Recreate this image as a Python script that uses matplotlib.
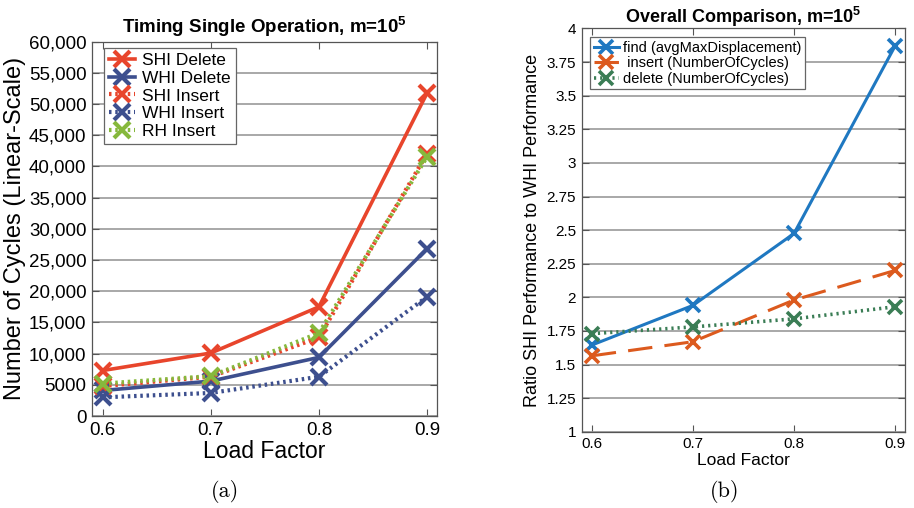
import numpy as np
import matplotlib
matplotlib.use("Agg")
import matplotlib.pyplot as plt

plt.rcParams['font.family'] = ['Liberation Sans', 'DejaVu Sans']
plt.rcParams['mathtext.fontset'] = 'custom'
plt.rcParams['mathtext.rm'] = 'Liberation Sans'
plt.rcParams['mathtext.bf'] = 'Liberation Sans:bold'

# data
load = [0.6, 0.7, 0.8, 0.9]

shi_delete = [7300, 10100, 17500, 51700]
whi_delete = [4100, 5600, 9400, 26800]
shi_insert = [4800, 6300, 12600, 42000]
whi_insert = [3000, 3700, 6300, 19100]
rh_insert = [5200, 6400, 13300, 41500]

find_ratio = [1.645, 1.94, 2.475, 3.87]
insert_ratio = [1.565, 1.67, 1.98, 2.20]
delete_ratio = [1.73, 1.78, 1.84, 1.93]

left_yticks = [0, 5000, 10000, 15000, 20000, 25000, 30000, 35000, 40000, 45000, 50000, 55000, 60000]
left_yticklabels = ['0', '5000', '10,000', '15,000', '20,000', '25,000', '30,000',
                    '35,000', '40,000', '45,000', '50,000', '55,000', '60,000']
right_yticks = [1, 1.25, 1.5, 1.75, 2, 2.25, 2.5, 2.75, 3, 3.25, 3.5, 3.75, 4]
right_yticklabels = ['1', '1.25', '1.5', '1.75', '2', '2.25', '2.5', '2.75', '3', '3.25', '3.5', '3.75', '4']

RED = '#E8452C'
BLUE = '#3D4F8E'
GREEN = '#86B83C'
M_BLUE = '#1F78C1'
M_ORANGE = '#DC5A1E'
M_GREEN = '#3A7D55'

fig = plt.figure(figsize=(9.14, 5.08), dpi=100)
ax1 = fig.add_axes([0.1007, 0.181, 0.377, 0.737])
ax2 = fig.add_axes([0.6364, 0.150, 0.354, 0.794])


def style_axis(ax, size):
    ax.grid(axis='y', color='#9a9a9a', linewidth=1.2)
    ax.set_axisbelow(True)
    for s in ax.spines.values():
        s.set_color('#555555')
        s.set_linewidth(0.9)
    ax.tick_params(direction='in', top=True, right=True, labelsize=size,
                   length=5, color='#555555', pad=4)
    ax.set_xticks(load)
    ax.set_xticklabels(['0.6', '0.7', '0.8', '0.9'])


dot = (0, (0.6, 0.9))
mk = dict(marker='x', markersize=11, markeredgewidth=3)

ax1.plot(load, shi_delete, color=RED, lw=2.6, ls='-', label='SHI Delete', **mk)
ax1.plot(load, whi_delete, color=BLUE, lw=2.6, ls='-', label='WHI Delete', **mk)
ax1.plot(load, shi_insert, color=RED, lw=3, ls=dot, label='SHI Insert', **mk)
ax1.plot(load, whi_insert, color=BLUE, lw=3, ls=dot, label='WHI Insert', **mk)
ax1.plot(load, rh_insert, color=GREEN, lw=3, ls=dot, label='RH Insert', **mk)

ax1.set_xlim(0.59, 0.909)
ax1.set_ylim(0, 60000)
ax1.set_yticks(left_yticks)
ax1.set_yticklabels(left_yticklabels)
style_axis(ax1, 13.5)
ax1.set_xlabel('Load Factor', fontsize=16.5, labelpad=1)
ax1.set_ylabel('Number of Cycles (Linear-Scale)', fontsize=17, labelpad=2)
ax1.set_title(r'Timing Single Operation, m=10$^{\mathbf{5}}$', fontsize=13.5, fontweight='bold', pad=6)
leg1 = ax1.legend(loc='upper left', fontsize=12.5, handlelength=1.5, handletextpad=0.4,
                  labelspacing=0.15, borderpad=0.3, fancybox=False, framealpha=1,
                  edgecolor='#666666', bbox_to_anchor=(0.035, 0.984), borderaxespad=0)
leg1.get_frame().set_linewidth(0.9)

mk2 = dict(marker='x', markersize=10, markeredgewidth=2.6)
ax2.plot(load, find_ratio, color=M_BLUE, lw=2.2, ls='-', label='find (avgMaxDisplacement)', **mk2)
ax2.plot(load, insert_ratio, color=M_ORANGE, lw=2.2, ls=(0, (8, 4)), label=' insert (NumberOfCycles)', **mk2)
ax2.plot(load, delete_ratio, color=M_GREEN, lw=2.6, ls=(0, (0.6, 1.1)), label='delete (NumberOfCycles)', **mk2)

ax2.set_xlim(0.59, 0.91)
ax2.set_ylim(1, 4)
ax2.set_yticks(right_yticks)
ax2.set_yticklabels(right_yticklabels)
style_axis(ax2, 11)
ax2.set_xlabel('Load Factor', fontsize=12.5, labelpad=1)
ax2.set_ylabel('Ratio SHI Performance to WHI Performance', fontsize=13, labelpad=4)
ax2.set_title(r'Overall Comparison, m=10$^{\mathbf{5}}$', fontsize=13, fontweight='bold', pad=4)
leg2 = ax2.legend(loc='upper left', fontsize=10.5, handlelength=1.7, handletextpad=0.3,
                  labelspacing=0.1, borderpad=0.25, fancybox=False, framealpha=1,
                  edgecolor='#666666', borderaxespad=0.6)
leg2.get_frame().set_linewidth(0.9)

fig.text(0.246, 0.033, '(a)', fontsize=16, ha='center', va='center', family='cmr10')
fig.text(0.793, 0.033, '(b)', fontsize=16, ha='center', va='center', family='cmr10')

fig.savefig('out.png', dpi=100)
